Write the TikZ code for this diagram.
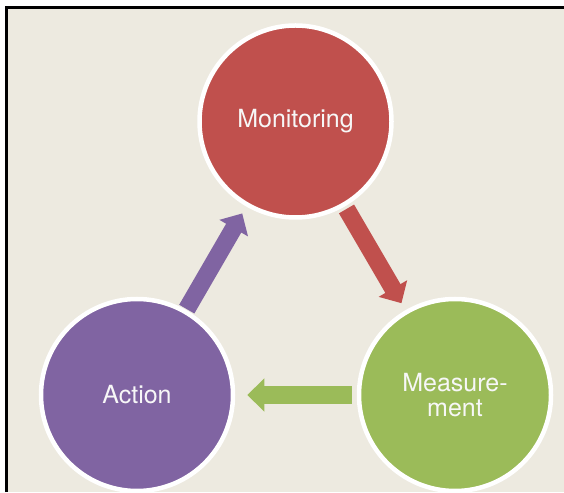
\documentclass[tikz,border=0pt]{standalone}
\usepackage{fontspec}
\setmainfont{TeX Gyre Heros}
\usepackage{xcolor}
\usetikzlibrary{arrows.meta}
\definecolor{paper}{HTML}{EDEAE0}
\definecolor{monred}{HTML}{C0504D}
\definecolor{meagreen}{HTML}{9BBB59}
\definecolor{actpurple}{HTML}{8064A2}

\begin{document}
\begin{tikzpicture}%
  [x=1pt,y=1pt,
   flow/.style={line width=17.5pt,-{Triangle[width=32pt,length=17pt]}}]
  \tikzstyle{stage node}=[circle,draw=white,line width=4.5pt,minimum size=192pt,
    text=white!94!gray,font=\fontsize{25}{25}\selectfont,align=center]
  \useasboundingbox (0,0) rectangle (564,492);
  \fill[paper] (8,0) rectangle (564,483);
  \draw[line width=3pt] (6.5,0) -- (6.5,484.5) -- (564,484.5);
  \node(mon)[stage node,fill=monred] at (295.5,370.5){Monitoring};
  \node(mea)[stage node,fill=meagreen] at (455,97){Measure-\\ment};
  \node(act)[stage node,fill=actpurple] at (137,97){Action};
  \draw[flow,monred,shorten <=3pt,shorten >=8pt] (mon) -- (mea);
  \draw[flow,meagreen,shorten <=5pt,shorten >=12pt] (mea) -- (act);
  \draw[flow,actpurple,shorten <=1pt,shorten >=8pt] (act) -- (mon);
\end{tikzpicture}
\end{document}
